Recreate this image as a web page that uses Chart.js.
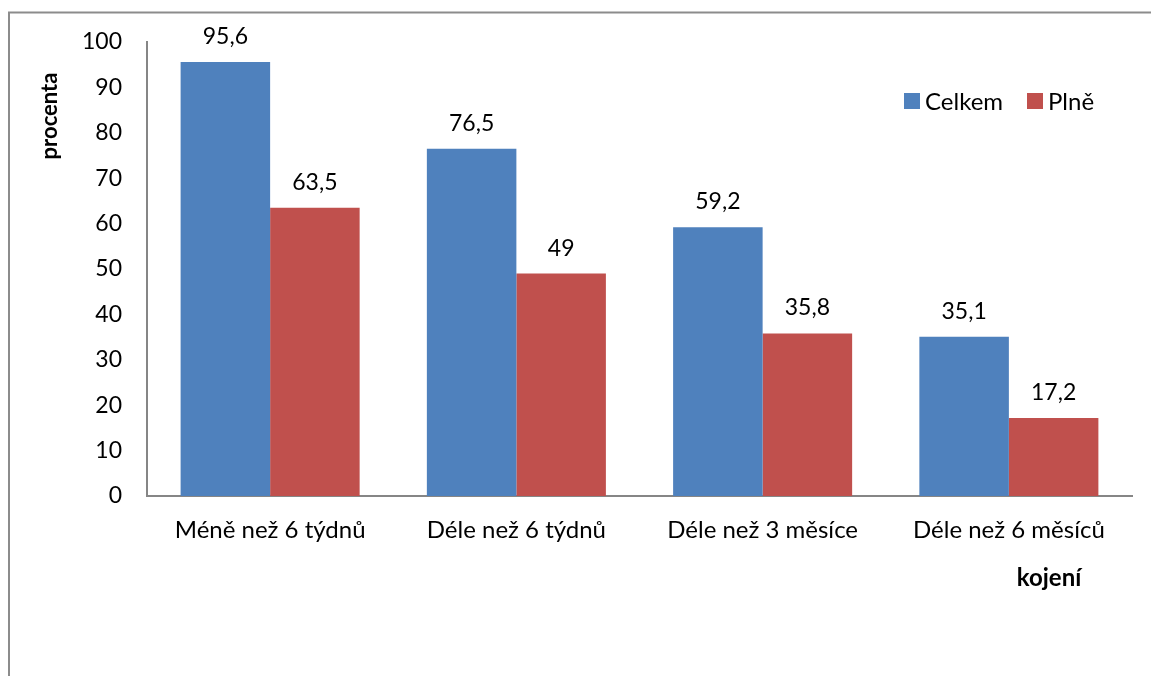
<!DOCTYPE html>
<html>
<head>
<meta charset="utf-8">
<script src="https://cdn.jsdelivr.net/npm/chart.js@4"></script>
<style>
  html, body { margin: 0; padding: 0; background: #fff; }
  #wrap { width: 1151px; height: 676px; position: relative; }
</style>
</head>
<body>
<div id="wrap"><canvas id="myChart" width="1151" height="676"></canvas></div>
<script>
// breastfeeding duration, share of mothers in percent
var categories = ['Méně než 6 týdnů', 'Déle než 6 týdnů', 'Déle než 3 měsíce', 'Déle než 6 měsíců'];
var celkem = [95.6, 76.5, 59.2, 35.1];
var plne = [63.5, 49, 35.8, 17.2];
var yTicks = [0, 10, 20, 30, 40, 50, 60, 70, 80, 90, 100];

var fontFamily = 'Lato, "Open Sans", sans-serif';
var blue = '#4f81bd';
var red = '#c0504d';
var axisGray = '#868686';

function fmt(v) {
  return String(v).replace('.', ',');
}

// value labels over each bar
var valueLabels = {
  id: 'valueLabels',
  afterDatasetsDraw: function(chart) {
    var ctx = chart.ctx;
    ctx.save();
    ctx.font = '23px ' + fontFamily;
    ctx.fillStyle = '#000';
    ctx.textAlign = 'center';
    ctx.textBaseline = 'alphabetic';
    chart.data.datasets.forEach(function(ds, i) {
      chart.getDatasetMeta(i).data.forEach(function(bar, j) {
        ctx.fillText(fmt(ds.data[j]), bar.x, bar.y - 18);
      });
    });
    ctx.restore();
  }
};

// frame, axis titles and legend
var decorations = {
  id: 'decorations',
  afterDraw: function(chart) {
    var ctx = chart.ctx;
    ctx.save();
    ctx.strokeStyle = '#8c8c8c';
    ctx.lineWidth = 2;
    ctx.beginPath();
    ctx.moveTo(9, 676);
    ctx.lineTo(9, 12.5);
    ctx.lineTo(1151, 12.5);
    ctx.stroke();

    ctx.fillStyle = '#000';
    ctx.font = 'bold 24px ' + fontFamily;
    ctx.textAlign = 'center';
    ctx.textBaseline = 'middle';
    ctx.fillText('kojení', 1049, 578);

    ctx.save();
    ctx.translate(50, 116);
    ctx.rotate(-Math.PI / 2);
    ctx.font = 'bold 22px ' + fontFamily;
    ctx.fillText('procenta', 0, 0);
    ctx.restore();

    ctx.font = '24px ' + fontFamily;
    ctx.textAlign = 'left';
    var items = [['Celkem', blue, 904], ['Plně', red, 1027]];
    items.forEach(function(it) {
      ctx.fillStyle = it[1];
      ctx.fillRect(it[2], 93, 16, 16);
      ctx.fillStyle = '#000';
      ctx.fillText(it[0], it[2] + 21, 102);
    });
    ctx.restore();
  }
};

var ctx = document.getElementById('myChart').getContext('2d');
var chart = new Chart(ctx, {
  type: 'bar',
  data: {
    labels: categories,
    datasets: [
      { label: 'Celkem', data: celkem, backgroundColor: blue },
      { label: 'Plně', data: plne, backgroundColor: red }
    ]
  },
  options: {
    responsive: false,
    animation: false,
    layout: { padding: { left: 0, top: 42, right: 19, bottom: 0 } },
    datasets: {
      bar: { categoryPercentage: 0.727, barPercentage: 1.0 }
    },
    plugins: {
      legend: { display: false },
      tooltip: { enabled: false }
    },
    scales: {
      x: {
        grid: { display: false, drawTicks: false },
        border: { color: axisGray, width: 2 },
        ticks: { color: '#000', font: { family: fontFamily, size: 24 }, padding: 20, maxRotation: 0 },
        afterFit: function(axis) { axis.height = 180; }
      },
      y: {
        min: 0,
        max: 100,
        afterBuildTicks: function(axis) {
          axis.ticks = yTicks.map(function(v) { return { value: v }; });
        },
        grid: { display: false, drawTicks: false },
        border: { color: axisGray, width: 2 },
        ticks: { color: '#000', font: { family: fontFamily, size: 23 }, padding: 25 },
        afterFit: function(axis) { axis.width = 147; }
      }
    }
  },
  plugins: [valueLabels, decorations]
});
</script>
</body>
</html>
